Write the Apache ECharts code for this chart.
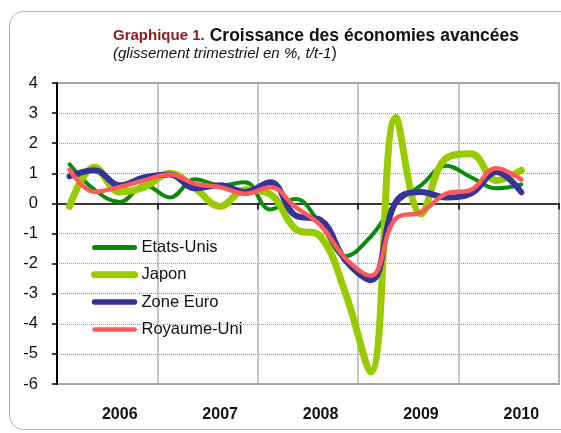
<!DOCTYPE html>
<html>
<head>
<meta charset="utf-8">
<script src="https://cdn.jsdelivr.net/npm/echarts@6/dist/echarts.min.js"></script>
<style>
  html, body { margin: 0; padding: 0; background: #fff; }
  #chart { width: 561px; height: 433px; }
</style>
</head>
<body>
<div id="chart"></div>
<script>
// quarters 2006T1 .. 2010T4 (last quarter has no data yet)
const quarters = []
for (let y = 2006; y <= 2010; y++) {
  for (let q = 1; q <= 4; q++) quarters.push('T' + q + ' ' + y)
}

// glissement trimestriel en %, 2006T1 .. 2010T3
const etatsUnis = [1.3, 0.45, 0.05, 0.6, 0.2, 0.8, 0.6, 0.7, -0.2, 0.15, -0.7, -1.75, -1.1, 0.0, 0.6, 1.25, 0.87, 0.5, 0.63]
const japon = [-0.1, 1.2, 0.38, 0.55, 1.0, 0.5, -0.1, 0.45, 0.3, -0.85, -1.1, -3.0, -5.6, 2.85, -0.35, 1.5, 1.65, 0.76, 1.1]
const zoneEuro = [0.9, 1.1, 0.6, 0.87, 0.96, 0.5, 0.6, 0.38, 0.7, -0.4, -0.55, -1.9, -2.55, 0.05, 0.38, 0.2, 0.33, 1.04, 0.37]
const royaumeUni = [1.12, 0.38, 0.55, 0.77, 0.96, 0.65, 0.54, 0.32, 0.54, -0.12, -0.73, -1.83, -2.4, -0.5, -0.29, 0.32, 0.45, 1.17, 0.79]

const names = ['Etats-Unis', 'Japon', 'Zone Euro', 'Royaume-Uni']
const colors = ['#0a8a0a', '#99cc00', '#333399', '#ff5a5a']

const chart = echarts.init(document.getElementById('chart'), null, { renderer: 'canvas' })

const font = '"Liberation Sans", Arial, sans-serif'

function lineSeries(name, data, color, width) {
  return {
    name,
    type: 'line',
    data,
    xAxisIndex: 0,
    smooth: 0.4,
    symbol: 'none',
    lineStyle: { color, width, cap: 'round', join: 'round' },
    itemStyle: { color },
    emphasis: { disabled: true }
  }
}

chart.setOption({
  backgroundColor: '#fff',
  animation: false,
  graphic: [
    {
      type: 'rect',
      shape: { x: 9.5, y: 11.5, width: 600, height: 418, r: 14 },
      style: { fill: 'none', stroke: '#8fc98f', lineWidth: 1 },
      z: -1
    }
  ],
  title: {
    left: 108,
    top: 22,
    itemGap: 1,
    text: '{a|Graphique 1.} {b|Croissance des économies avancées}',
    textStyle: {
      rich: {
        a: { fontFamily: font, fontSize: 15, fontWeight: 'bold', color: '#8e1b1b' },
        b: { fontFamily: font, fontSize: 17.5, fontWeight: 'bold', color: '#111' }
      }
    },
    subtext: '{i|(glissement trimestriel en %, t/t-1}{n|)}',
    subtextStyle: {
      rich: {
        i: { fontFamily: font, fontSize: 15, fontStyle: 'italic', color: '#111' },
        n: { fontFamily: font, fontSize: 16, color: '#111' }
      }
    }
  },
  legend: {
    orient: 'vertical',
    left: 91,
    top: 239,
    padding: 0,
    itemWidth: 40,
    itemHeight: 14,
    itemGap: 10.3,
    itemStyle: { opacity: 0 },
    textStyle: { fontFamily: font, fontSize: 16.5, color: '#111', padding: [0, 0, 0, 2] },
    data: [
      { name: names[0], lineStyle: { width: 5, cap: 'round' } },
      { name: names[1], lineStyle: { width: 7, cap: 'round' } },
      { name: names[2], lineStyle: { width: 5.5, cap: 'round' } },
      { name: names[3], lineStyle: { width: 4.5, cap: 'round' } }
    ]
  },
  grid: {
    left: 57,
    right: 2,
    top: 83,
    bottom: 49,
    show: true,
    borderColor: '#a8a8a8',
    borderWidth: 2
  },
  xAxis: [
    {
      type: 'category',
      data: quarters,
      position: 'bottom',
      axisLine: { show: false, onZero: false },
      axisTick: { show: false },
      axisLabel: {
        interval: (i) => i % 4 === 2,
        formatter: (v) => v.slice(-4),
        margin: 23,
        fontFamily: font,
        fontSize: 16,
        fontWeight: 'bold',
        color: '#111'
      },
      splitLine: {
        show: true,
        interval: (i) => i % 4 === 0,
        lineStyle: { color: '#b4b4b4', width: 1.5 }
      }
    },
    {
      type: 'category',
      data: quarters,
      position: 'bottom',
      axisLine: { onZero: true, lineStyle: { color: '#000', width: 1.5 } },
      axisTick: {
        show: true,
        interval: (i) => i % 4 === 0,
        length: 6,
        lineStyle: { color: '#000', width: 1.5 }
      },
      axisLabel: { show: false },
      splitLine: { show: false }
    }
  ],
  yAxis: {
    type: 'value',
    min: -6,
    max: 4,
    interval: 1,
    axisLine: { show: true, lineStyle: { color: '#000', width: 2 } },
    axisTick: { show: true, length: 5, lineStyle: { color: '#000', width: 1.5 } },
    axisLabel: {
      margin: 19,
      fontFamily: font,
      fontSize: 16.5,
      color: '#111'
    },
    splitLine: {
      show: true,
      lineStyle: { color: '#9a9a9a', width: 1, type: [1, 1] }
    }
  },
  series: [
    lineSeries(names[0], etatsUnis, colors[0], 4),
    lineSeries(names[1], japon, colors[1], 7),
    lineSeries(names[2], zoneEuro, colors[2], 6),
    lineSeries(names[3], royaumeUni, colors[3], 4.5)
  ]
})

window.addEventListener('resize', () => chart.resize())
</script>
</body>
</html>
